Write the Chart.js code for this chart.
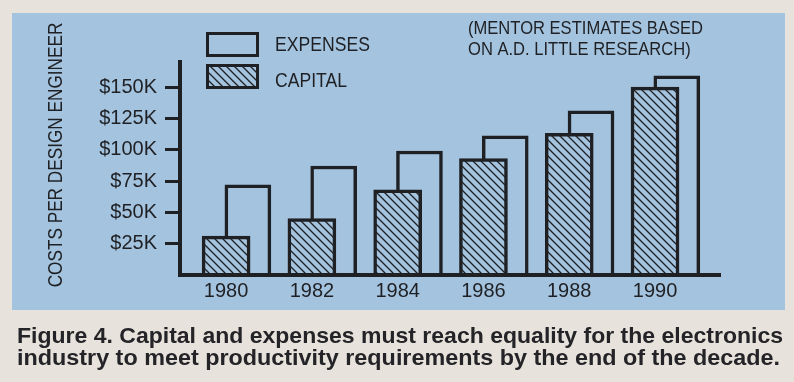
<!DOCTYPE html>
<html>
<head>
<meta charset="utf-8">
<script src="https://cdn.jsdelivr.net/npm/chart.js@4.4.1/dist/chart.umd.min.js"></script>
<style>
  html, body { margin: 0; padding: 0; background: #e7e2db; }
  #wrap { width: 794px; height: 382px; position: relative; }
</style>
</head>
<body>
<div id="wrap"><canvas id="c" width="794" height="382"></canvas></div>
<script>
// ---- data ----
const years = [1980, 1982, 1984, 1986, 1988, 1990];
const expenses = [72, 87, 99, 111, 131, 159];   // $K per design engineer
const capital  = [31, 45, 68, 93, 113, 150];    // $K per design engineer
const yTicks = [25, 50, 75, 100, 125, 150];
const seriesLabels = ['EXPENSES', 'CAPITAL'];
const yTitle = 'COSTS PER DESIGN ENGINEER';
const noteLines = ['(MENTOR ESTIMATES BASED', 'ON A.D. LITTLE RESEARCH)'];
const captionLines = [
  'Figure 4. Capital and expenses must reach equality for the electronics',
  'industry to meet productivity requirements by the end of the decade.'
];

// ---- styles ----
const BEIGE = '#e7e2db';
const BLUE = '#a3c3de';
const INK = '#1f2024';
const FONT = "'Liberation Sans', Arial, sans-serif";
const SQUEEZE = 0.88;

function makeHatch() {
  const s = 8;
  const c = document.createElement('canvas');
  c.width = s; c.height = s;
  const g = c.getContext('2d');
  g.fillStyle = BLUE; g.fillRect(0, 0, s, s);
  g.strokeStyle = INK; g.lineWidth = 1.3;
  g.beginPath();
  g.moveTo(0, 0); g.lineTo(s, s);
  g.moveTo(-2, s - 2); g.lineTo(2, s + 2);
  g.moveTo(s - 2, -2); g.lineTo(s + 2, 2);
  g.stroke();
  return g.createPattern(c, 'repeat');
}
const ctx0 = document.getElementById('c').getContext('2d');
const HATCH = makeHatch();

function squeezedText(ctx, text, x, y, sx, align) {
  const w = ctx.measureText(text).width;
  ctx.save();
  ctx.translate(x, y);
  ctx.scale(sx, 1);
  let ox = 0;
  if (align === 'center') ox = -w / 2;
  else if (align === 'right') ox = -w;
  ctx.textAlign = 'left';
  ctx.fillText(text, ox, 0);
  ctx.restore();
}

const deco = {
  id: 'deco',
  beforeDraw(chart) {
    const ctx = chart.ctx;
    ctx.save();
    ctx.fillStyle = BEIGE; ctx.fillRect(0, 0, 794, 382);
    ctx.fillStyle = BLUE; ctx.fillRect(12, 13, 773, 297);
    ctx.restore();
  },
  afterDraw(chart) {
    const ctx = chart.ctx;
    ctx.save();
    ctx.fillStyle = INK;
    ctx.textBaseline = 'alphabetic';
    // legend (from datasets)
    const order = [0, 1];
    const rows = [{y: 33.5, base: 50.5}, {y: 65.5, base: 87}];
    order.forEach((di, r) => {
      const ds = chart.data.datasets[di];
      ctx.fillStyle = ds.backgroundColor;
      ctx.fillRect(207.5, rows[r].y, 50, 22);
      ctx.lineWidth = 3; ctx.strokeStyle = INK;
      ctx.strokeRect(207.5, rows[r].y, 50, 22);
      ctx.fillStyle = INK;
      ctx.font = `20px ${FONT}`;
      squeezedText(ctx, ds.label, 275, rows[r].base, SQUEEZE, 'left');
    });
    // note
    ctx.font = `18px ${FONT}`;
    squeezedText(ctx, noteLines[0], 468, 33.5, 0.92, 'left');
    squeezedText(ctx, noteLines[1], 468, 55, 0.92, 'left');
    // y title
    ctx.save();
    ctx.translate(62, 155);
    ctx.rotate(-Math.PI / 2);
    ctx.font = `20px ${FONT}`;
    squeezedText(ctx, yTitle, 0, 0, 0.86, 'center');
    ctx.restore();
    // caption
    ctx.fillStyle = '#242428';
    ctx.font = `bold 22px ${FONT}`;
    const targets = [766, 763];
    const bases = [343, 364.5];
    captionLines.forEach((t, i) => {
      const w = ctx.measureText(t).width;
      squeezedText(ctx, t, 17, bases[i], targets[i] / w, 'left');
    });
    ctx.restore();
  }
};

new Chart(ctx0, {
  type: 'bar',
  data: {
    datasets: [
      {
        label: seriesLabels[0],
        data: years.map((y, i) => ({x: y, y: expenses[i]})),
        xAxisID: 'xE',
        backgroundColor: BLUE,
        borderColor: INK,
        borderWidth: 3.5,
        grouped: false,
        barPercentage: 1,
        categoryPercentage: 1,
        maxBarThickness: 46,
        order: 1
      },
      {
        label: seriesLabels[1],
        data: years.map((y, i) => ({x: y, y: capital[i]})),
        xAxisID: 'x',
        backgroundColor: HATCH,
        borderColor: INK,
        borderWidth: 3.5,
        grouped: false,
        barPercentage: 1,
        categoryPercentage: 1,
        maxBarThickness: 48,
        order: 0
      }
    ]
  },
  options: {
    responsive: false,
    animation: false,
    devicePixelRatio: 1,
    layout: { padding: { top: 62, right: 74, left: 0, bottom: 0 } },
    plugins: { legend: { display: false }, tooltip: { enabled: false } },
    scales: {
      x: {
        type: 'linear',
        position: 'bottom',
        offset: false,
        min: 1978.925, max: 1991.515,
        grid: { display: false, drawTicks: false },
        border: { display: true, color: INK, width: 4, z: 1 },
        afterBuildTicks: s => { s.ticks = years.map(v => ({value: v})); },
        afterFit: s => { s.height = 107; },
        ticks: {
          padding: 4,
          color: INK,
          font: { family: FONT, size: 20 },
          callback: v => String(v),
          autoSkip: false, maxRotation: 0
        }
      },
      xE: {
        type: 'linear',
        position: 'bottom',
        display: false,
        offset: false,
        min: 1978.417, max: 1991.007
      },
      y: {
        type: 'linear',
        min: 0, max: 170,
        grid: { display: true, drawOnChartArea: false, drawTicks: true, tickLength: 15, lineWidth: 3, tickWidth: 3, tickColor: INK, color: INK },
        border: { display: true, color: INK, width: 4, z: 1 },
        afterBuildTicks: s => { s.ticks = yTicks.map(v => ({value: v})); },
        afterFit: s => { s.width = 180; },
        ticks: {
          padding: 8,
          color: INK,
          font: { family: FONT, size: 20 },
          callback: v => '$' + v + 'K'
        }
      }
    }
  },
  plugins: [deco]
});
</script>
</body>
</html>
